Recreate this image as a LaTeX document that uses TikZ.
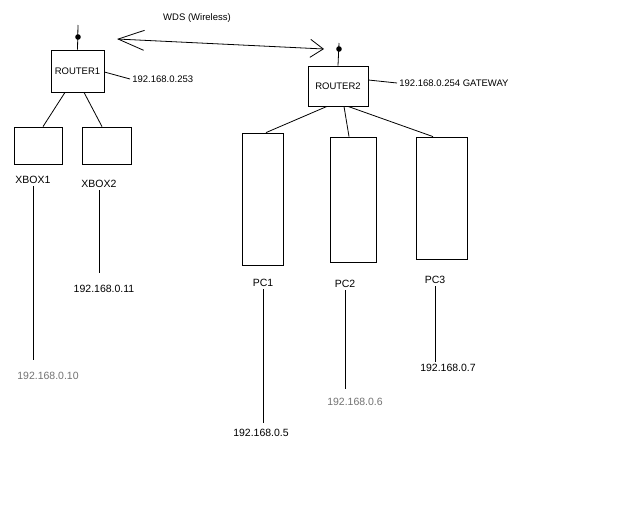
\documentclass[tikz,border=0pt]{standalone}
\usepackage{fontspec}
\setmainfont{Liberation Sans}
\usetikzlibrary{arrows.meta,calc,positioning}

\begin{document}
\begin{tikzpicture}[x=1pt,y=-1pt, line width=.8pt,
    every node/.style={font=\fontsize{9.5}{11}\selectfont, inner sep=2pt},
    box/.style={draw, minimum width=#1, inner sep=0pt},
    devname/.style={font=\fontsize{10.5}{12}\selectfont},
    iplbl/.style={font=\fontsize{10.5}{12}\selectfont},
    faded/.style={text=black!55},
    wds/.style={{Straight Barb[length=26pt,width=20pt,line width=.8pt]}-{Straight Barb[length=13pt,width=18pt,line width=.8pt]}}]
  \fill[white] (0,0) rectangle (640,512);
  \useasboundingbox (0,0) rectangle (640,512);
  % routers with antennas
  \node[box=53pt, minimum height=42pt] (router1) at (77.5,71) {ROUTER1};
  \node[box=60pt, minimum height=40pt] (router2) at (338,86) {ROUTER2};
  \coordinate (ant1) at (78,25);
  \coordinate (ant2) at (339,43);
  \draw (router1.north) -- (ant1);
  \draw (router2.north) -- (ant2);
  \fill (78,37) circle (2.8);
  \fill (339,49) circle (2.8);
  % wireless link
  \coordinate (wdsL) at (117,39);
  \coordinate (wdsR) at (324,49);
  \draw[wds] (wdsL) -- (wdsR);
  \node (wdslbl) at (197,18) {WDS (Wireless)};
  % router addresses
  \node[anchor=west] (ip1) at (130,79) {192.168.0.253};
  \node[anchor=west] (ip2) at (397,83) {192.168.0.254 GATEWAY};
  \draw ($(router1.east)+(0,1)$) -- (ip1.west);
  \draw ($(router2.east)+(0,-6)$) -- (ip2.west);
  % devices
  \node[box=48pt, minimum height=37pt] (xbox1) at (38,145.5) {};
  \node[box=49pt, minimum height=37pt] (xbox2) at (106.5,145.5) {};
  \node[box=41pt, minimum height=132pt] (pc1) at (262.5,199) {};
  \node[box=46pt, minimum height=125pt] (pc2) at (353,199.5) {};
  \node[box=51pt, minimum height=122pt] (pc3) at (441.5,198) {};
  \draw ($(router1.south)+(-12.5,0)$) -- ($(xbox1.north)+(5,0)$);
  \draw ($(router1.south)+(6.5,0)$) -- ($(xbox2.north)+(-4.5,0)$);
  \draw ($(router2.south)+(-11,0)$) -- ($(pc1.north)+(3.5,0)$);
  \draw ($(router2.south)+(6,0)$) -- ($(pc2.north)+(-4,0)$);
  \draw ($(router2.south)+(10,0)$) -- ($(pc3.north)+(-8.5,0)$);
  % names
  \node[devname] (xbox1lbl) at (33,180) {XBOX1};
  \node[devname] (xbox2lbl) at (99,184) {XBOX2};
  \node[devname] (pc1lbl) at (263,283) {PC1};
  \node[devname] (pc2lbl) at (345,284) {PC2};
  \node[devname] (pc3lbl) at (435,280) {PC3};
  % addresses
  \node[iplbl, faded] (xbox1ip) at (48,376) {192.168.0.10};
  \node[iplbl] (xbox2ip) at (104,289) {192.168.0.11};
  \node[iplbl] (pc1ip) at (261,433) {192.168.0.5};
  \node[iplbl, faded] (pc2ip) at (355,402) {192.168.0.6};
  \node[iplbl] (pc3ip) at (448,368) {192.168.0.7};
  \draw[shorten >=10pt] (xbox1lbl.south) -- (xbox1lbl.south |- xbox1ip.north);
  \draw[shorten >=10pt] (xbox2lbl.south) -- (xbox2lbl.south |- xbox2ip.north);
  \draw[shorten >=4pt] (pc1lbl.south) -- (pc1lbl.south |- pc1ip.north);
  \draw[shorten >=7pt] (pc2lbl.south) -- (pc2lbl.south |- pc2ip.north);
  \draw (pc3lbl.south) -- (pc3lbl.south |- pc3ip.north);
\end{tikzpicture}
\end{document}
